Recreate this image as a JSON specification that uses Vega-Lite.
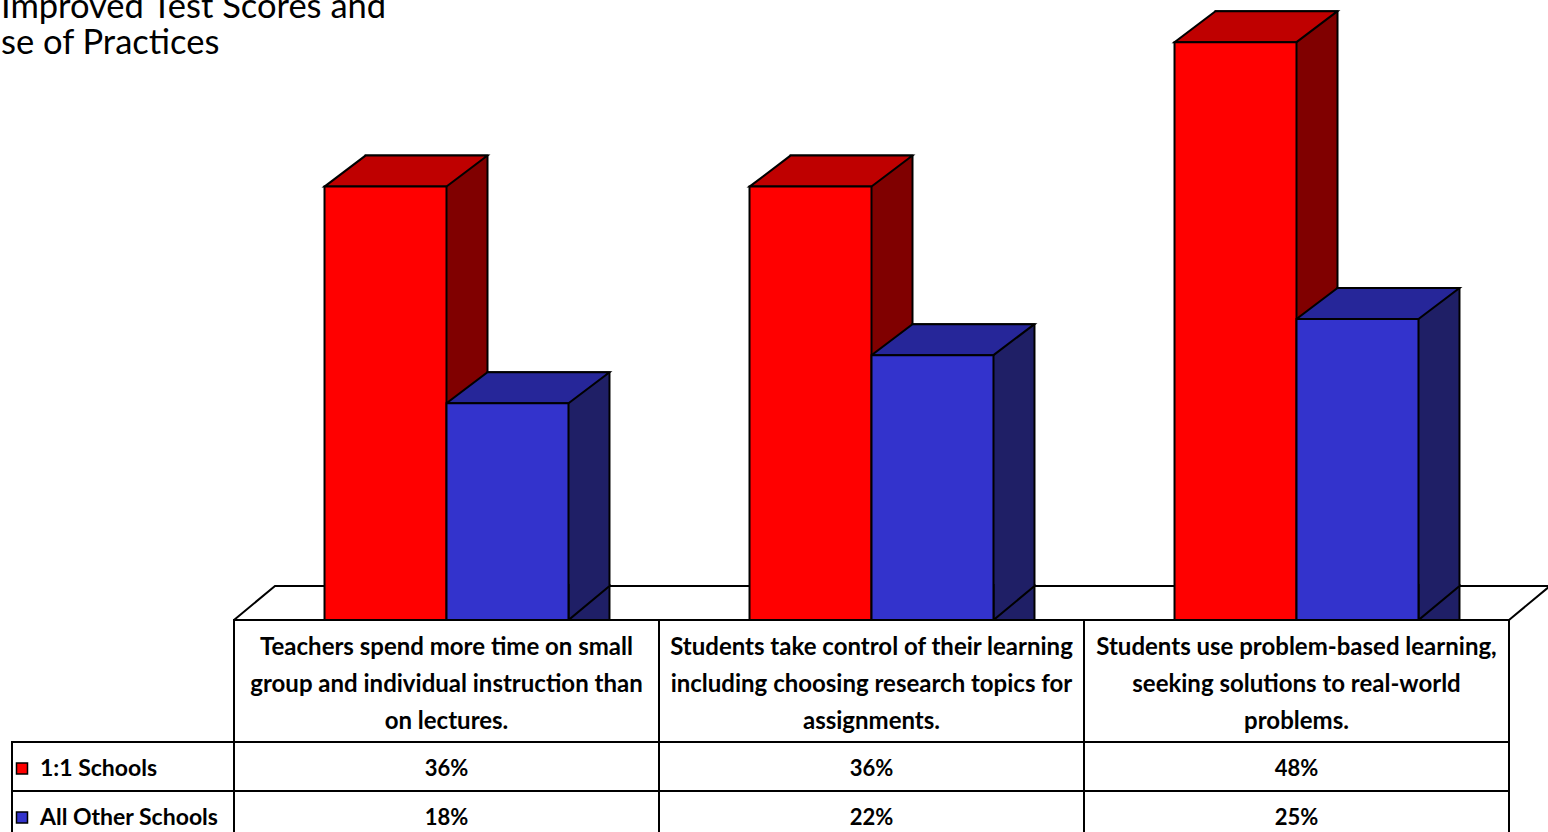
{
  "$schema": "https://vega.github.io/schema/vega-lite/v6.json",
  "width": 1548,
  "height": 832,
  "autosize": "none",
  "padding": 0,
  "background": "white",
  "config": {"view": {"stroke": null}, "font": "Lato"},
  "title": {
    "text": ["Improved Test Scores and", "se of Practices"],
    "anchor": "start",
    "frame": "group",
    "orient": "top",
    "baseline": "alphabetic",
    "offset": -88,
    "dx": 1,
    "font": "Lato",
    "fontSize": 34.5,
    "fontWeight": "normal",
    "color": "black",
    "lineHeight": 36
  },
  "data": {
    "values": [
      {"practice": "Teachers spend more time on small\ngroup and individual instruction than\non lectures.", "schools": "1:1 Schools", "share": 0.36},
      {"practice": "Teachers spend more time on small\ngroup and individual instruction than\non lectures.", "schools": "All Other Schools", "share": 0.18},
      {"practice": "Students take control of their learning\nincluding choosing research topics for\nassignments.", "schools": "1:1 Schools", "share": 0.36},
      {"practice": "Students take control of their learning\nincluding choosing research topics for\nassignments.", "schools": "All Other Schools", "share": 0.22},
      {"practice": "Students use problem-based learning,\nseeking solutions to real-world\nproblems.", "schools": "1:1 Schools", "share": 0.48},
      {"practice": "Students use problem-based learning,\nseeking solutions to real-world\nproblems.", "schools": "All Other Schools", "share": 0.25}
    ]
  },
  "layer": [
    {
      "encoding": {
        "x": {
          "field": "practice", "type": "nominal", "axis": null,
          "scale": {
            "type": "band",
            "domain": [
              "Teachers spend more time on small\ngroup and individual instruction than\non lectures.",
              "Students take control of their learning\nincluding choosing research topics for\nassignments.",
              "Students use problem-based learning,\nseeking solutions to real-world\nproblems."
            ],
            "range": [234, 1509], "paddingInner": 0, "paddingOuter": 0
          }
        },
        "y": {
          "field": "share", "type": "quantitative", "axis": null, "stack": null,
          "scale": {"domain": [0, 0.515], "range": [620, 0], "nice": false, "zero": true}
        }
      },
      "layer": [
        {
          "transform": [{"filter": "datum.schools == '1:1 Schools'"}],
          "mark": {"type": "point", "filled": false, "size": 4, "stroke": "black", "strokeWidth": 2, "opacity": 1},
          "encoding": {
            "y": {"datum": 0, "type": "quantitative"},
            "shape": {
              "field": "practice", "type": "nominal", "legend": null,
              "scale": {
                "domain": [
                  "Teachers spend more time on small\ngroup and individual instruction than\non lectures.",
                  "Students take control of their learning\nincluding choosing research topics for\nassignments.",
                  "Students use problem-based learning,\nseeking solutions to real-world\nproblems."
                ],
                "range": [
                  "M-212.5,0L-171.5,-34L253.5,-34",
                  "M-171.5,-34L253.5,-34",
                  "M-171.5,-34L253.5,-34L212.5,0"
                ]
              }
            }
          }
        },
        {
          "mark": {"type": "bar", "yOffset": -31, "y2Offset": -34, "stroke": "black", "strokeWidth": 2},
          "encoding": {
            "xOffset": {
              "field": "schools", "type": "nominal",
              "scale": {"type": "band", "domain": ["1:1 Schools", "All Other Schools"], "range": [41, 466], "paddingInner": 0, "paddingOuter": 0.742}
            },
            "color": {
              "field": "schools", "type": "nominal", "legend": null,
              "scale": {"domain": ["1:1 Schools", "All Other Schools"], "range": ["#800000", "#1F1F66"]}
            }
          }
        },
        {
          "mark": {"type": "point", "filled": true, "size": 4, "shape": "M61,-36L61,0L102,-34L102,-36", "stroke": "black", "strokeWidth": 2, "opacity": 1},
          "encoding": {
            "y": {"datum": 0, "type": "quantitative"},
            "xOffset": {
              "field": "schools", "type": "nominal",
              "scale": {"type": "band", "domain": ["1:1 Schools", "All Other Schools"], "range": [0, 425], "paddingInner": 0, "paddingOuter": 0.742}
            },
            "color": {
              "field": "schools", "type": "nominal", "legend": null,
              "scale": {"domain": ["1:1 Schools", "All Other Schools"], "range": ["#800000", "#1F1F66"]}
            }
          }
        },
        {
          "mark": {"type": "point", "filled": true, "size": 4, "shape": "M-61,0L61,0L102,-31L-20,-31Z", "stroke": "black", "strokeWidth": 2, "opacity": 1},
          "encoding": {
            "xOffset": {
              "field": "schools", "type": "nominal",
              "scale": {"type": "band", "domain": ["1:1 Schools", "All Other Schools"], "range": [0, 425], "paddingInner": 0, "paddingOuter": 0.742}
            },
            "color": {
              "field": "schools", "type": "nominal", "legend": null,
              "scale": {"domain": ["1:1 Schools", "All Other Schools"], "range": ["#BF0000", "#262699"]}
            }
          }
        },
        {
          "mark": {"type": "bar", "stroke": "black", "strokeWidth": 2},
          "encoding": {
            "xOffset": {
              "field": "schools", "type": "nominal",
              "scale": {"type": "band", "domain": ["1:1 Schools", "All Other Schools"], "range": [0, 425], "paddingInner": 0, "paddingOuter": 0.742}
            },
            "color": {
              "field": "schools", "type": "nominal", "legend": null,
              "scale": {"domain": ["1:1 Schools", "All Other Schools"], "range": ["#FF0000", "#3333CC"]}
            }
          }
        }
      ],
      "resolve": {"scale": {"xOffset": "independent", "color": "independent", "shape": "independent"}}
    },
    {
      "layer": [
        {
          "transform": [{"filter": "datum.schools == '1:1 Schools'"}],
          "mark": {"type": "rect", "fill": "white", "stroke": "black", "strokeWidth": 2},
          "encoding": {
            "x": {
              "field": "practice", "type": "nominal", "axis": null,
              "scale": {
                "type": "band",
                "domain": [
                  "Teachers spend more time on small\ngroup and individual instruction than\non lectures.",
                  "Students take control of their learning\nincluding choosing research topics for\nassignments.",
                  "Students use problem-based learning,\nseeking solutions to real-world\nproblems."
                ],
                "range": [234, 1509], "paddingInner": 0, "paddingOuter": 0
              }
            },
            "y": {
              "datum": "header", "type": "nominal", "axis": null,
              "scale": {"type": "band", "domain": ["header"], "range": [620, 742], "paddingInner": 0, "paddingOuter": 0}
            }
          }
        },
        {
          "mark": {"type": "rect", "fill": "white", "stroke": "black", "strokeWidth": 2},
          "encoding": {
            "x": {
              "field": "practice", "type": "nominal", "axis": null,
              "scale": {
                "type": "band",
                "domain": [
                  "Teachers spend more time on small\ngroup and individual instruction than\non lectures.",
                  "Students take control of their learning\nincluding choosing research topics for\nassignments.",
                  "Students use problem-based learning,\nseeking solutions to real-world\nproblems."
                ],
                "range": [234, 1509], "paddingInner": 0, "paddingOuter": 0
              }
            },
            "y": {
              "field": "schools", "type": "nominal", "axis": null,
              "scale": {"type": "band", "domain": ["1:1 Schools", "All Other Schools"], "range": [742, 840], "paddingInner": 0, "paddingOuter": 0}
            }
          }
        },
        {
          "transform": [{"filter": "datum.schools == '1:1 Schools'"}],
          "mark": {"type": "text", "font": "Lato", "fontWeight": "bold", "fontSize": 24, "lineBreak": "\n", "lineHeight": 37, "baseline": "middle", "align": "center", "dy": -33, "color": "black"},
          "encoding": {
            "x": {
              "field": "practice", "type": "nominal", "axis": null,
              "scale": {
                "type": "band",
                "domain": [
                  "Teachers spend more time on small\ngroup and individual instruction than\non lectures.",
                  "Students take control of their learning\nincluding choosing research topics for\nassignments.",
                  "Students use problem-based learning,\nseeking solutions to real-world\nproblems."
                ],
                "range": [234, 1509], "paddingInner": 0, "paddingOuter": 0
              }
            },
            "y": {
              "datum": "header", "type": "nominal", "axis": null,
              "scale": {"type": "band", "domain": ["header"], "range": [620, 742], "paddingInner": 0, "paddingOuter": 0}
            },
            "text": {"field": "practice", "type": "nominal"}
          }
        },
        {
          "mark": {"type": "text", "font": "Lato", "fontWeight": "bold", "fontSize": 22, "baseline": "middle", "align": "center", "dy": 2, "color": "black"},
          "encoding": {
            "x": {
              "field": "practice", "type": "nominal", "axis": null,
              "scale": {
                "type": "band",
                "domain": [
                  "Teachers spend more time on small\ngroup and individual instruction than\non lectures.",
                  "Students take control of their learning\nincluding choosing research topics for\nassignments.",
                  "Students use problem-based learning,\nseeking solutions to real-world\nproblems."
                ],
                "range": [234, 1509], "paddingInner": 0, "paddingOuter": 0
              }
            },
            "y": {
              "field": "schools", "type": "nominal", "axis": null,
              "scale": {"type": "band", "domain": ["1:1 Schools", "All Other Schools"], "range": [742, 840], "paddingInner": 0, "paddingOuter": 0}
            },
            "text": {"field": "share", "type": "quantitative", "format": ".0%"}
          }
        },
        {
          "transform": [{"filter": "datum.practice == 'Students use problem-based learning,\\nseeking solutions to real-world\\nproblems.'"}],
          "mark": {"type": "rect", "fill": "white", "stroke": "black", "strokeWidth": 2},
          "encoding": {
            "x": {
              "datum": "legend", "type": "nominal", "axis": null,
              "scale": {"type": "band", "domain": ["legend"], "range": [12, 234], "paddingInner": 0, "paddingOuter": 0}
            },
            "y": {
              "field": "schools", "type": "nominal", "axis": null,
              "scale": {"type": "band", "domain": ["1:1 Schools", "All Other Schools"], "range": [742, 840], "paddingInner": 0, "paddingOuter": 0}
            }
          }
        },
        {
          "transform": [{"filter": "datum.practice == 'Students use problem-based learning,\\nseeking solutions to real-world\\nproblems.'"}],
          "mark": {"type": "point", "shape": "square", "filled": true, "size": 121, "stroke": "black", "strokeWidth": 1.5, "opacity": 1, "xOffset": 10, "yOffset": 2},
          "encoding": {
            "x": {
              "datum": "legend", "type": "nominal", "axis": null, "bandPosition": 0,
              "scale": {"type": "band", "domain": ["legend"], "range": [12, 234], "paddingInner": 0, "paddingOuter": 0}
            },
            "y": {
              "field": "schools", "type": "nominal", "axis": null,
              "scale": {"type": "band", "domain": ["1:1 Schools", "All Other Schools"], "range": [742, 840], "paddingInner": 0, "paddingOuter": 0}
            },
            "color": {
              "field": "schools", "type": "nominal", "legend": null,
              "scale": {"domain": ["1:1 Schools", "All Other Schools"], "range": ["#FF0000", "#3333CC"]}
            }
          }
        },
        {
          "transform": [{"filter": "datum.practice == 'Students use problem-based learning,\\nseeking solutions to real-world\\nproblems.'"}],
          "mark": {"type": "text", "font": "Lato", "fontWeight": "bold", "fontSize": 23, "baseline": "middle", "align": "left", "color": "black", "xOffset": 28, "yOffset": 2},
          "encoding": {
            "x": {
              "datum": "legend", "type": "nominal", "axis": null, "bandPosition": 0,
              "scale": {"type": "band", "domain": ["legend"], "range": [12, 234], "paddingInner": 0, "paddingOuter": 0}
            },
            "y": {
              "field": "schools", "type": "nominal", "axis": null,
              "scale": {"type": "band", "domain": ["1:1 Schools", "All Other Schools"], "range": [742, 840], "paddingInner": 0, "paddingOuter": 0}
            },
            "text": {"field": "schools", "type": "nominal"}
          }
        }
      ],
      "resolve": {"scale": {"x": "independent", "y": "independent", "color": "independent"}}
    }
  ],
  "resolve": {"scale": {"x": "independent", "y": "independent", "color": "independent", "xOffset": "independent", "shape": "independent"}}
}
